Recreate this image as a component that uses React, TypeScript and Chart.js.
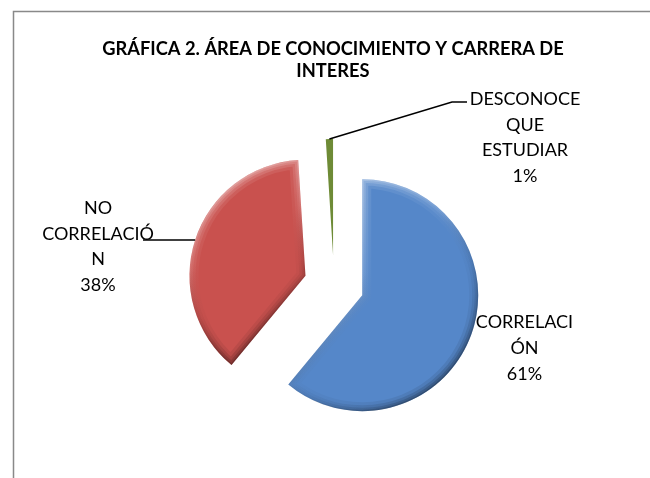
import React, { useEffect, useRef } from 'react';
import { Chart, registerables } from 'chart.js';

Chart.register(...registerables);

// ---- data ----
const categories = ['CORRELACIÓN', 'NO CORRELACIÓN', 'DESCONOCE QUE ESTUDIAR'];
const labelLines = [['CORRELACI', 'ÓN'], ['NO', 'CORRELACIÓ', 'N'], ['DESCONOCE', 'QUE', 'ESTUDIAR']];
const values = [61, 38, 1];
const titleLines = ['GRÁFICA 2. ÁREA DE CONOCIMIENTO Y CARRERA DE', 'INTERES'];

// ---- style ----
const sliceColors = ['#5587C9', '#C9514E', '#6E8B36'];
const PIE_RADIUS = 116;
const EXPLODE = 30;
const FONT = 'Lato, "Open Sans", sans-serif';
const LABEL_SIZE = 18;
const LINE_H = 25.7;

// label placement relative to pie centre (dx, dy of first line's cap centre)
const labelLayout = [
  { dx: 190.5, dy: 37, leader: null as null | number[][] },
  { dx: -236, dy: -77.5, leader: [[-191, NaN]] },
  { dx: 191, dy: -186.5, leader: [[118, -183], [133, -183]] },
];

function slicePath(ctx: CanvasRenderingContext2D, arc: any) {
  const { x, y, startAngle, endAngle, outerRadius } = arc;
  ctx.beginPath();
  ctx.moveTo(x, y);
  ctx.arc(x, y, outerRadius, startAngle, endAngle);
  ctx.closePath();
}

function drawBevel(ctx: CanvasRenderingContext2D, arc: any) {
  const { x, y, startAngle, endAngle, outerRadius: r } = arc;
  if (endAngle - startAngle < 0.2) return;
  let minX = x, maxX = x, minY = y, maxY = y;
  for (let k = 0; k <= 40; k++) {
    const a = startAngle + ((endAngle - startAngle) * k) / 40;
    const px = x + Math.cos(a) * r, py = y + Math.sin(a) * r;
    minX = Math.min(minX, px); maxX = Math.max(maxX, px);
    minY = Math.min(minY, py); maxY = Math.max(maxY, py);
  }
  ctx.save();
  slicePath(ctx, arc);
  ctx.clip();
  const g = ctx.createLinearGradient(minX, minY, maxX, maxY);
  g.addColorStop(0, 'rgba(255,255,255,0.95)');
  g.addColorStop(0.4, 'rgba(255,255,255,0.25)');
  g.addColorStop(0.6, 'rgba(0,0,0,0.15)');
  g.addColorStop(1, 'rgba(0,0,0,0.95)');
  ctx.lineJoin = 'round';
  ctx.strokeStyle = g;
  const bands: number[][] = [[18, 0.14], [12, 0.2], [7, 0.24], [3, 0.28]];
  for (const [w, a] of bands) {
    ctx.globalAlpha = a;
    ctx.lineWidth = w;
    slicePath(ctx, arc);
    ctx.stroke();
  }
  ctx.restore();
}

const explodePlugin = {
  id: 'explodeDraw',
  beforeDatasetDraw(chart: any, args: any) {
    const ctx: CanvasRenderingContext2D = chart.ctx;
    args.meta.data.forEach((arc: any) => {
      const mid = (arc.startAngle + arc.endAngle) / 2;
      ctx.save();
      ctx.translate(Math.cos(mid) * EXPLODE, Math.sin(mid) * EXPLODE);
      arc.draw(ctx, chart.chartArea);
      drawBevel(ctx, arc);
      ctx.restore();
    });
    return false;
  },
};

const decorPlugin = {
  id: 'decor',
  beforeDraw(chart: any) {
    const ctx: CanvasRenderingContext2D = chart.ctx;
    ctx.save();
    ctx.fillStyle = '#ffffff';
    ctx.fillRect(0, 0, chart.width, chart.height);
    ctx.fillStyle = '#000000';
    ctx.textAlign = 'center';
    ctx.textBaseline = 'alphabetic';
    ctx.font = `bold 18.3px ${FONT}`;
    ctx.fillText(titleLines[0], 333, 55);
    ctx.fillText(titleLines[1], 333, 76.5);
    ctx.restore();
  },
  afterDraw(chart: any) {
    const ctx: CanvasRenderingContext2D = chart.ctx;
    const meta = chart.getDatasetMeta(0);
    const cx = meta.data[0].x;
    const cy = meta.data[0].y;
    ctx.save();
    ctx.font = `${LABEL_SIZE}px ${FONT}`;
    ctx.fillStyle = '#000000';
    ctx.textAlign = 'center';
    ctx.textBaseline = 'alphabetic';
    meta.data.forEach((arc: any, i: number) => {
      const lay = labelLayout[i];
      const lines = [...labelLines[i], `${values[i]}%`];
      if (lay.leader) {
        const mid = (arc.startAngle + arc.endAngle) / 2;
        const sx = arc.x + Math.cos(mid) * (arc.outerRadius + EXPLODE);
        const sy = arc.y + Math.sin(mid) * (arc.outerRadius + EXPLODE);
        ctx.strokeStyle = '#000000';
        ctx.lineWidth = 1.5;
        ctx.beginPath();
        ctx.moveTo(sx, sy);
        lay.leader.forEach(([lx, ly]) => {
          ctx.lineTo(cx + lx, isNaN(ly) ? sy : cy + ly);
        });
        ctx.stroke();
      }
      lines.forEach((t, k) => {
        ctx.fillText(t, cx + lay.dx, cy + lay.dy + k * LINE_H + LABEL_SIZE * 0.36);
      });
    });
    // chart frame (left and top edges; the rest lies outside the picture)
    ctx.strokeStyle = '#898989';
    ctx.lineWidth = 1.5;
    ctx.beginPath();
    ctx.moveTo(13.5, chart.height + 5);
    ctx.lineTo(13.5, 11.5);
    ctx.lineTo(chart.width + 5, 11.5);
    ctx.stroke();
    ctx.restore();
  },
};

export default function App() {
  const ref = useRef<HTMLCanvasElement | null>(null);
  useEffect(() => {
    document.documentElement.style.overflow = 'hidden';
    document.body.style.margin = '0';
    document.body.style.overflow = 'hidden';
    if (!ref.current) return;
    const chart = new Chart(ref.current, {
      type: 'pie',
      data: {
        labels: categories,
        datasets: [
          {
            data: values,
            backgroundColor: sliceColors,
            borderWidth: 0,
            radius: PIE_RADIUS,
          } as any,
        ],
      },
      options: {
        responsive: false,
        animation: false,
        events: [],
        layout: { padding: { left: 60, right: 42, top: 120, bottom: 28 } },
        plugins: {
          legend: { display: false },
          title: { display: false },
          tooltip: { enabled: false },
        },
      },
      plugins: [explodePlugin, decorPlugin],
    });
    return () => chart.destroy();
  }, []);
  return (
    <div style={{ width: 650, height: 478, overflow: 'hidden' }}>
      <canvas
        ref={ref}
        width={650}
        height={478}
        style={{ display: 'block', width: 650, height: 478 }}
      />
    </div>
  );
}
